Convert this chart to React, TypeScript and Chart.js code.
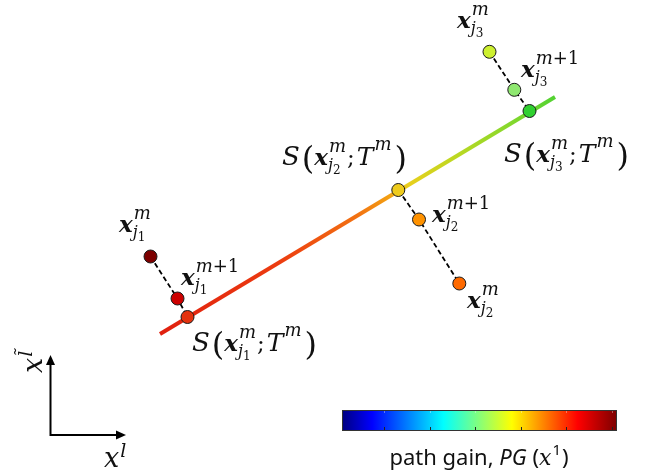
import React, { useEffect, useRef } from "react";
import { Chart, registerables } from "chart.js";

Chart.register(...registerables);

// ---- data (diagram coordinates; y grows downward) ----
const mainLineX = [160, 555];
const mainLineY = [334, 97];
const mainLineStops = [0, 0.3, 0.5, 0.58, 0.63, 0.75, 0.88, 1];
const mainLineColors = ["#e0200f", "#ec3c10", "#f27212", "#f3a012", "#e8cf1c", "#bcd822", "#88d82c", "#52d232"];

// points: j1 (x^m, x^{m+1}, S), j2 (S, x^{m+1}, x^m), j3 (x^m, x^{m+1}, S)
const pointX = [150.5, 177.5, 187.5, 398.3, 419, 459.3, 489.5, 514.3, 529.5];
const pointY = [256.5, 298.5, 317, 190, 219.5, 283.5, 51.8, 89.8, 111];
const pointColors = ["#7c0000", "#cc0000", "#e4320e", "#eecb1c", "#ff9200", "#ff6a00", "#cdf030", "#8fe870", "#30d030"];
const traj1 = [0, 1, 2];
const traj2 = [3, 4, 5];
const traj3 = [6, 7, 8];

// axes indicator
const axisOriginX = 50.5;
const axisOriginY = 435;
const axisXEnd = 126;
const axisYEnd = 355;

// colorbar
const cbX = [342, 616];
const cbY = [410, 430];
const cbTicks = [384, 430, 475, 521, 566, 612];
const jetStops = [0, 0.11, 0.37, 0.62, 0.86, 1];
const jetColors = ["#00007f", "#0000ff", "#00ffff", "#ffff00", "#ff0000", "#7f0000"];
const cbLabelX = 479;
const cbLabelY = 465;

// labels: kind, index j, anchor (left, baseline)
const labelKind = ["xm", "xm1", "S", "S", "xm1", "xm", "xm", "xm1", "S"];
const labelJ = ["1", "1", "1", "2", "2", "2", "3", "3", "3"];
const labelX = [119, 181, 192, 282, 432, 467, 457, 521, 504];
const labelY = [232, 285, 351, 165, 222, 308, 28, 77, 162];

const MATH = '"DejaVu Serif"';
const f = (style: string, size: number) => `${style} ${size}px ${MATH}`;

type Run = { t: string; f: string; dy?: number; dx?: number } | { sup: Run[]; sub: Run[] };

function layout(ctx: CanvasRenderingContext2D, runs: Run[], x: number, y: number): number {
  const x0 = x;
  for (const r of runs) {
    if ("t" in r) {
      ctx.font = r.f;
      x += r.dx || 0;
      ctx.fillText(r.t, x, y + (r.dy || 0));
      x += ctx.measureText(r.t).width;
    } else {
      const w1 = layout(ctx, r.sup, x, y);
      const w2 = layout(ctx, r.sub, x, y);
      x += Math.max(w1, w2);
    }
  }
  return x - x0;
}

const supM: Run[] = [{ t: "m", f: f("italic", 18), dy: -13, dx: 1 }];
const supM1: Run[] = [
  { t: "m", f: f("italic", 18), dy: -13, dx: 1 },
  { t: "+1", f: f("normal", 18), dy: -13 },
];
function xSym(j: string, sup: Run[]): Run[] {
  return [
    { t: "x", f: f("italic bold", 23) },
    { sup, sub: [{ t: "j", f: f("italic", 16), dy: 5 }, { t: j, f: f("normal", 12), dy: 9 }] },
  ];
}
function sLabel(j: string): Run[] {
  return [
    { t: "S", f: f("italic", 26) },
    { t: "(", f: f("normal", 32), dy: 4, dx: 2 },
    ...xSym(j, supM),
    { t: ";", f: f("normal", 23), dx: 1 },
    { t: "T", f: f("italic", 25), dx: 2 },
    { sup: [{ t: "m", f: f("italic", 18), dy: -15, dx: 1 }], sub: [] },
    { t: ")", f: f("normal", 32), dy: 4, dx: 3 },
  ];
}

const overlay = {
  id: "overlay",
  afterDraw(chart: any) {
    const ctx: CanvasRenderingContext2D = chart.ctx;
    const xs = chart.scales.x;
    const ys = chart.scales.y;
    const px = (v: number) => xs.getPixelForValue(v);
    const py = (v: number) => ys.getPixelForValue(v);
    ctx.save();
    ctx.fillStyle = "#000";
    ctx.textBaseline = "alphabetic";

    // arrowheads
    const ox = px(axisOriginX), oy = py(axisOriginY);
    const ex = px(axisXEnd), ey = py(axisYEnd);
    ctx.beginPath();
    ctx.moveTo(ex, oy);
    ctx.lineTo(ex - 10, oy - 4.5);
    ctx.lineTo(ex - 10, oy + 4.5);
    ctx.closePath();
    ctx.fill();
    ctx.beginPath();
    ctx.moveTo(ox, ey);
    ctx.lineTo(ox - 4.5, ey + 10);
    ctx.lineTo(ox + 4.5, ey + 10);
    ctx.closePath();
    ctx.fill();

    // axis labels
    ctx.fillStyle = "#111";
    layout(ctx, [{ t: "x", f: f("italic", 27) }, { t: "l", f: f("italic", 19), dy: -10, dx: 1 }], px(104), py(467));
    ctx.save();
    ctx.translate(px(42), py(373));
    ctx.rotate(-Math.PI / 2);
    layout(ctx, [{ t: "x", f: f("italic", 27) }, { t: "l\u0303", f: f("italic", 19), dy: -10, dx: 1 }], 0, 0);
    ctx.restore();

    // colorbar
    const cx0 = px(cbX[0]), cx1 = px(cbX[1]);
    const cy0 = py(cbY[0]), cy1 = py(cbY[1]);
    const g = ctx.createLinearGradient(cx0, 0, cx1, 0);
    jetStops.forEach((s, i) => g.addColorStop(s, jetColors[i]));
    ctx.fillStyle = g;
    ctx.fillRect(cx0, cy0, cx1 - cx0, cy1 - cy0);
    ctx.strokeStyle = "#333";
    ctx.lineWidth = 1;
    ctx.strokeRect(Math.round(cx0) + 0.5, Math.round(cy0) + 0.5, cx1 - cx0, cy1 - cy0);
    ctx.strokeStyle = "#222";
    cbTicks.forEach((t) => {
      const x = Math.round(px(t)) + 0.5;
      ctx.beginPath();
      ctx.moveTo(x, cy1);
      ctx.lineTo(x, cy1 - 3);
      ctx.stroke();
    });
    ctx.strokeStyle = "rgba(255,255,255,0.35)";
    cbTicks.forEach((t) => {
      const x = Math.round(px(t)) + 0.5;
      ctx.beginPath();
      ctx.moveTo(x, cy0 + 1);
      ctx.lineTo(x, cy0 + 3);
      ctx.stroke();
    });

    // colorbar label
    ctx.fillStyle = "#111";
    const SANS = '"Noto Sans"';
    const cbRuns: Run[] = [
      { t: "path gain, ", f: `normal 22px ${SANS}` },
      { t: "PG", f: `italic 22px ${SANS}` },
      { t: " (", f: `normal 22px ${SANS}` },
      { t: "x", f: f("italic", 22) },
      { t: "1", f: `normal 15px ${SANS}`, dy: -10, dx: 1 },
      { t: ")", f: `normal 22px ${SANS}`, dx: 1 },
    ];
    const tmp = document.createElement("canvas").getContext("2d")!;
    const w = layout(tmp, cbRuns, 0, 0);
    layout(ctx, cbRuns, px(cbLabelX) - w / 2, py(cbLabelY));

    // math labels
    ctx.fillStyle = "#111";
    labelKind.forEach((k, i) => {
      const j = labelJ[i];
      const runs = k === "S" ? sLabel(j) : xSym(j, k === "xm" ? supM : supM1);
      layout(ctx, runs, px(labelX[i]), py(labelY[i]));
    });
    ctx.restore();
  },
};

export default function App() {
  const ref = useRef<HTMLCanvasElement>(null);
  useEffect(() => {
    if (!ref.current) return;
    const pts = (idx: number[]) => idx.map((i) => ({ x: pointX[i], y: pointY[i] }));
    const dashed = (idx: number[]) => ({
      data: pts(idx),
      showLine: true,
      borderColor: "#000",
      borderWidth: 1.8,
      borderDash: [5, 3],
      pointRadius: 0,
      order: 2,
    });
    const chart = new Chart(ref.current, {
      type: "scatter",
      data: {
        datasets: [
          {
            data: pointX.map((x, i) => ({ x, y: pointY[i] })),
            showLine: false,
            pointRadius: 6.5,
            pointHoverRadius: 6.5,
            pointBackgroundColor: pointColors,
            pointBorderColor: "#1a1a1a",
            pointBorderWidth: 1,
            order: 0,
          } as any,
          dashed(traj1),
          dashed(traj2),
          dashed(traj3),
          {
            data: mainLineX.map((x, i) => ({ x, y: mainLineY[i] })),
            showLine: true,
            borderWidth: 4,
            borderCapStyle: "butt",
            pointRadius: 0,
            order: 3,
            borderColor: (c: any) => {
              const chart = c.chart;
              if (!chart.chartArea) return "#e0200f";
              const xs = chart.scales.x, ys = chart.scales.y;
              const g = chart.ctx.createLinearGradient(
                xs.getPixelForValue(mainLineX[0]), ys.getPixelForValue(mainLineY[0]),
                xs.getPixelForValue(mainLineX[1]), ys.getPixelForValue(mainLineY[1])
              );
              mainLineStops.forEach((s, i) => g.addColorStop(s, mainLineColors[i]));
              return g;
            },
          } as any,
          {
            data: [{ x: axisOriginX, y: axisOriginY }, { x: axisXEnd - 9, y: axisOriginY }],
            showLine: true, borderColor: "#000", borderWidth: 2, pointRadius: 0, order: 4,
          },
          {
            data: [{ x: axisOriginX, y: axisOriginY + 1 }, { x: axisOriginX, y: axisYEnd + 9 }],
            showLine: true, borderColor: "#000", borderWidth: 2, pointRadius: 0, order: 4,
          },
        ],
      },
      options: {
        animation: false,
        responsive: false,
        devicePixelRatio: 1,
        layout: { padding: 0, autoPadding: false },
        events: [],
        scales: {
          x: { type: "linear", min: 0, max: 646, display: false },
          y: { type: "linear", min: 0, max: 475, reverse: true, display: false },
        },
        plugins: { legend: { display: false }, tooltip: { enabled: false } },
      },
      plugins: [overlay],
    });
    return () => chart.destroy();
  }, []);
  return (
    <div style={{ position: "fixed", left: 0, top: 0, width: 646, height: 475, background: "#fff" }}>
      <canvas ref={ref} width={646} height={475} />
    </div>
  );
}
